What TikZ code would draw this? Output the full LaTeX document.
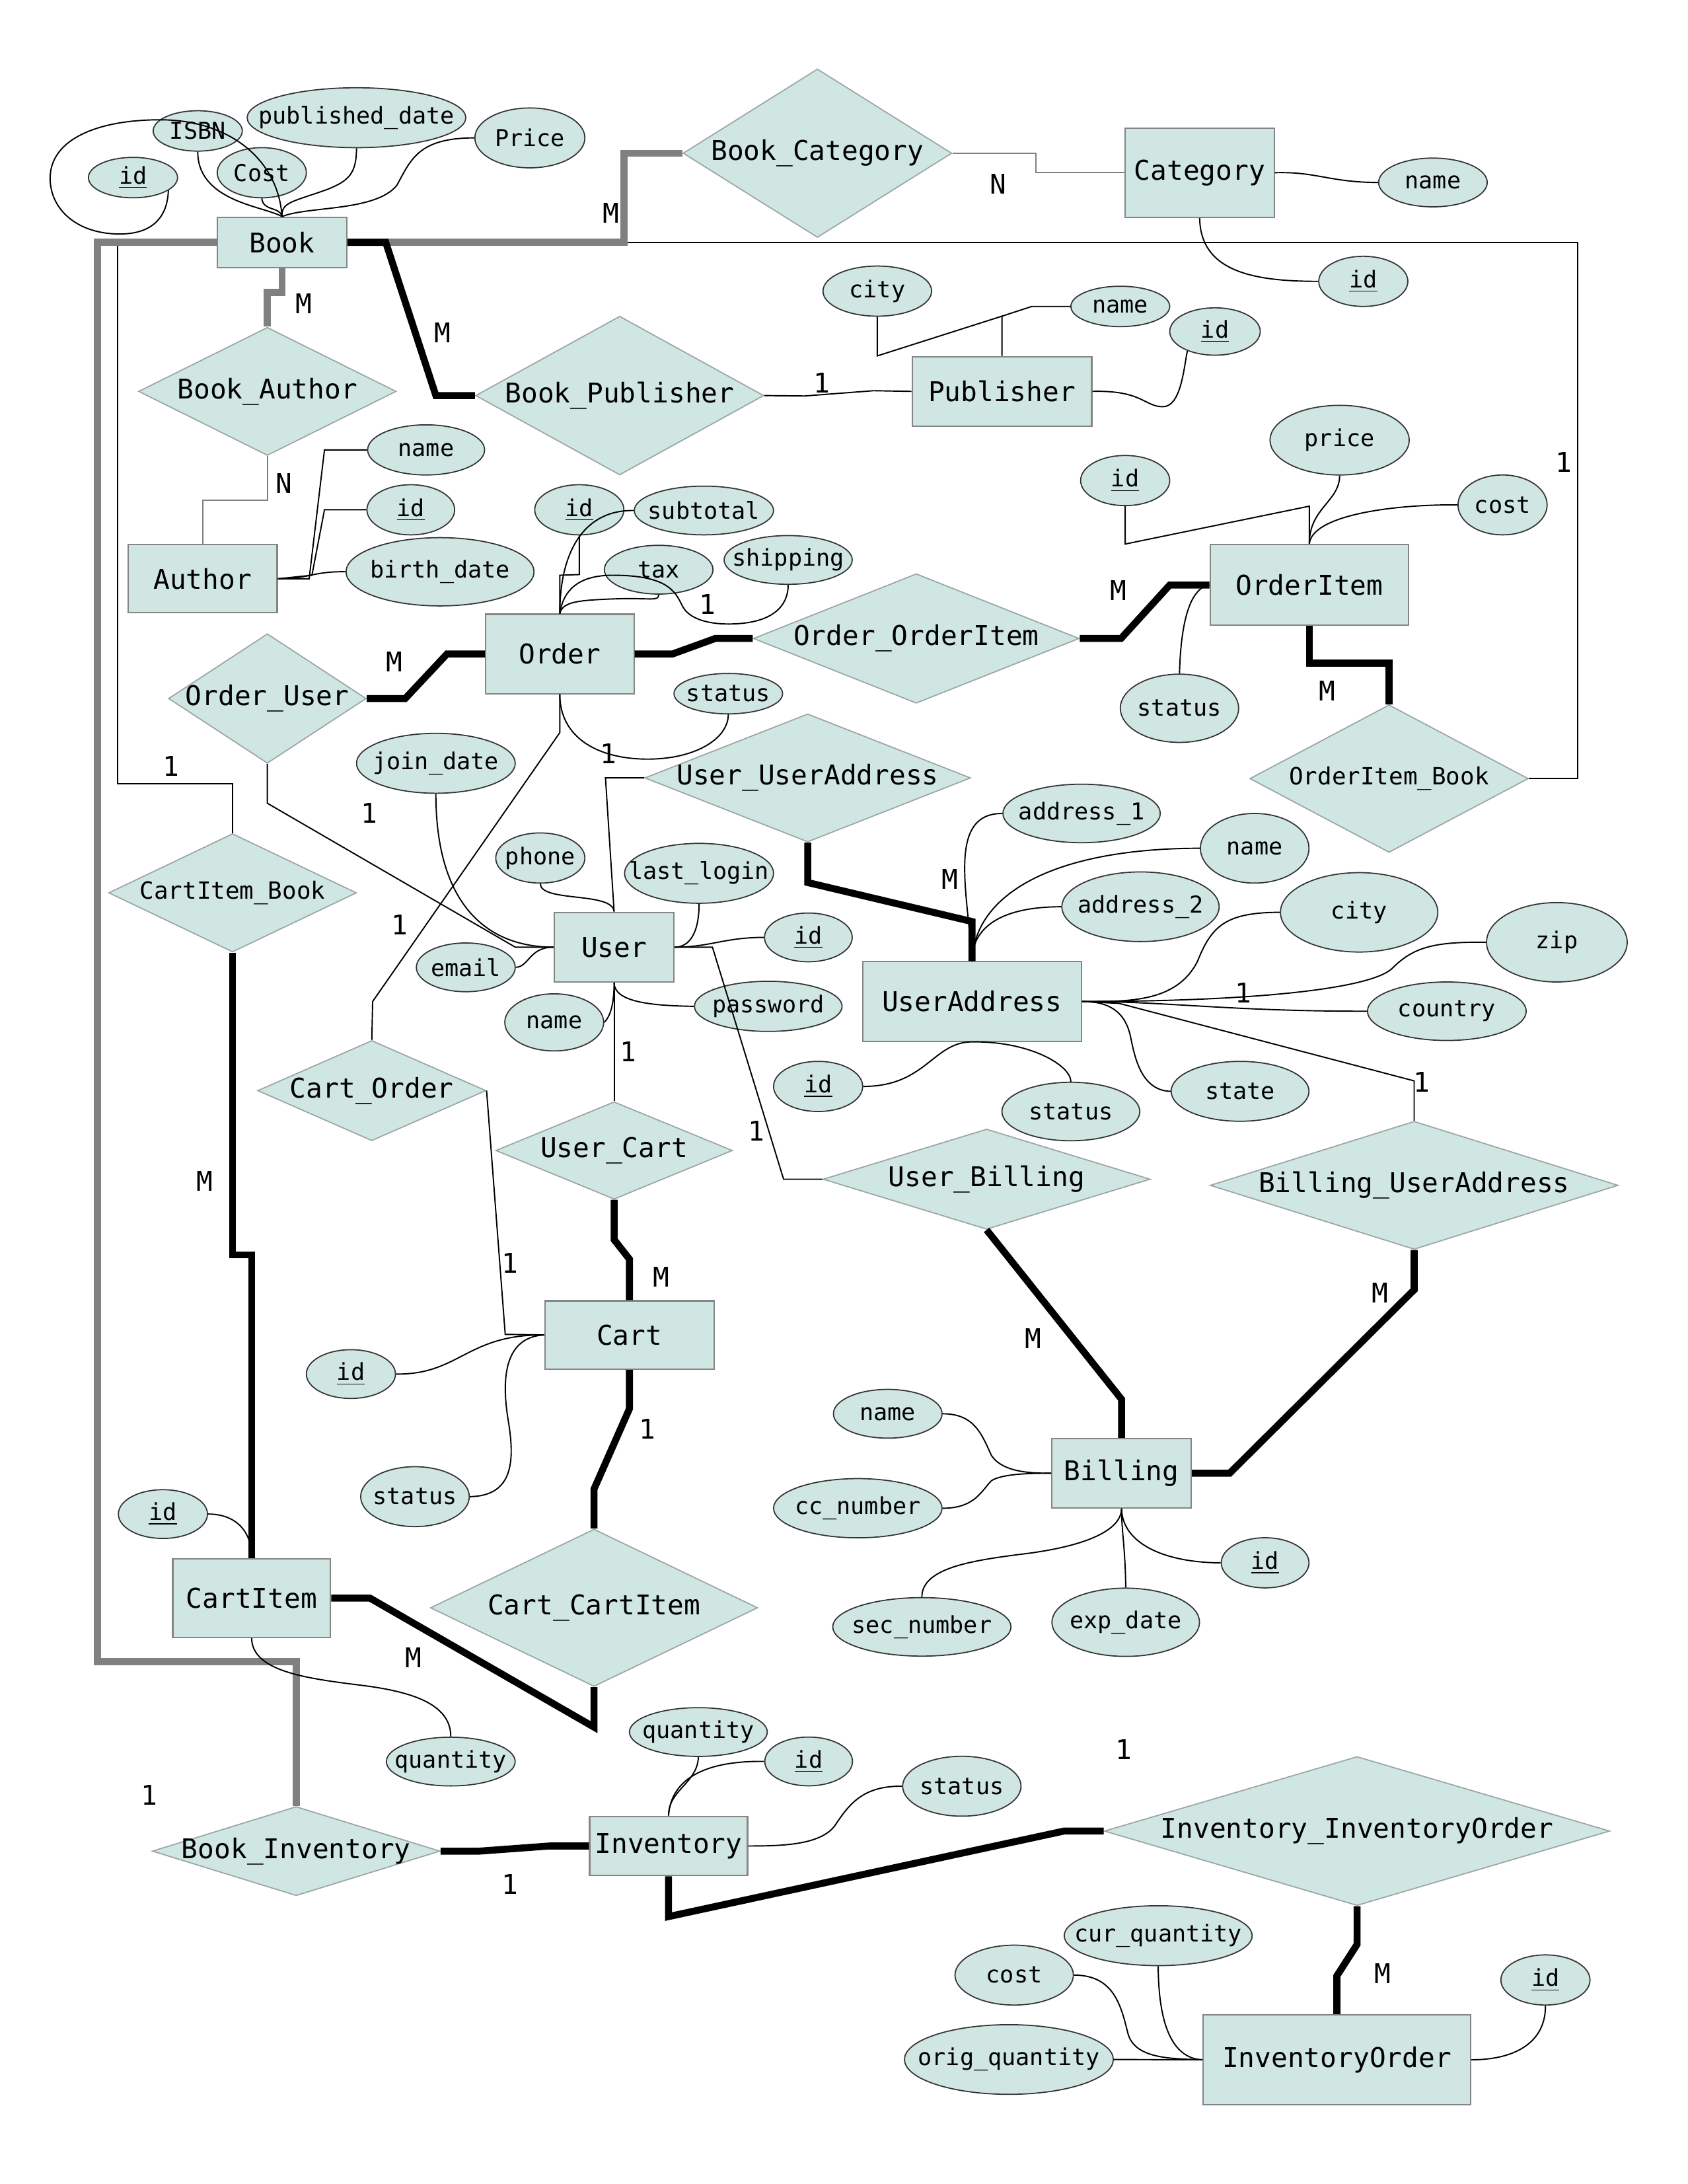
\documentclass[tikz,border=0pt]{standalone}
\usepackage{fontspec}
\setmainfont{DejaVu Sans Mono}
\usetikzlibrary{shapes.geometric}
\newcommand{\uu}{0.2107mm}
\newcommand{\entfont}{\fontsize{11.7}{14}\selectfont}
\newcommand{\attrfont}{\fontsize{10}{12}\selectfont}
\newcommand{\relsmall}{\fontsize{10.2}{12}\selectfont}
\definecolor{fillc}{HTML}{D0E6E3}
\definecolor{entb}{HTML}{858585}
\definecolor{relb}{HTML}{9AA6A4}
\definecolor{ellb}{HTML}{333333}
\definecolor{thkgrey}{HTML}{808080}
\begin{document}
\begin{tikzpicture}[x=\uu, y=-\uu,
  ent/.style 2 args={rectangle, draw=entb, fill=fillc, line width=0.6pt, inner sep=0pt,
     minimum width=#1*\uu, minimum height=#2*\uu, font=\entfont},
  rel/.style n args={3}{diamond, draw=relb, fill=fillc, line width=0.5pt, inner sep=0pt,
     minimum width=#1*\uu, minimum height=#2*\uu, label={[font=\entfont, inner sep=0pt]center:#3}},
  rels/.style n args={3}{diamond, draw=relb, fill=fillc, line width=0.5pt, inner sep=0pt,
     minimum width=#1*\uu, minimum height=#2*\uu, label={[font=\relsmall, inner sep=0pt]center:#3}},
  attr/.style n args={3}{ellipse, draw=ellb, fill=fillc, line width=0.5pt, inner sep=0pt,
     minimum width=#1*\uu, minimum height=#2*\uu, label={[font=\attrfont, inner sep=0pt]center:#3}},
  card/.style={font=\entfont, inner sep=0pt},
  thin/.style={line width=0.55pt, black},
  thing/.style={line width=0.55pt, thkgrey},
  thk/.style={line width=3pt, black},
  thkg/.style={line width=3pt, thkgrey}]

\fill[white] (0,0) rectangle (1212,1568);
\useasboundingbox (0,0) rectangle (1212,1568);

% ---------- entities ----------
\node[ent={93}{36}] (book) at (202.5,174) {Book};
\node[ent={107}{64}] (category) at (861.5,124) {Category};
\node[ent={129}{50}] (publisher) at (719.5,281) {Publisher};
\node[ent={107}{49}] (author) at (145.5,415.5) {Author};
\node[ent={106.5}{57}] (order) at (402,469.5) {Order};
\node[ent={142.5}{58}] (orderitem) at (940.25,420) {OrderItem};
\node[ent={86}{50}] (user) at (441,680) {User};
\node[ent={157}{57}] (useraddr) at (698,719) {UserAddress};
\node[ent={121.6}{49}] (cart) at (452,958.4) {Cart};
\node[ent={113.3}{56.5}] (cartitem) at (180.7,1147.3) {CartItem};
\node[ent={100}{49.7}] (billing) at (805.4,1057.7) {Billing};
\node[ent={113.4}{42.6}] (inventory) at (480.1,1325.3) {Inventory};
\node[ent={192}{64.4}] (invorder) at (960,1478.8) {InventoryOrder};

% ---------- relationships ----------
\node[rel={193}{121}{Book\_Category}] (bookcat) at (587,110) {};
\node[rel={185}{92}{Book\_Author}] (bookauth) at (192,281) {};
\node[rel={207}{114}{Book\_Publisher}] (bookpub) at (445,284) {};
\node[rel={142}{93}{Order\_User}] (orderuser) at (192,501.5) {};
\node[rel={234}{93}{Order\_OrderItem}] (orderoi) at (658,458.4) {};
\node[rels={200}{106}{OrderItem\_Book}] (oibook) at (997.5,559) {};
\node[rel={234}{92}{User\_UserAddress}] (useruaddr) at (580,558.5) {};
\node[rels={178}{85}{CartItem\_Book}] (cartitembook) at (167,641) {};
\node[rel={164}{72}{Cart\_Order}] (cartorder) at (267,783) {};
\node[rel={170}{70}{User\_Cart}] (usercart) at (441,826) {};
\node[rel={235}{72}{User\_Billing}] (userbill) at (708.5,846.6) {};
\node[rel={293}{92}{Billing\_UserAddress}] (billuaddr) at (1015.5,851) {};
\node[rel={235}{113}{Cart\_CartItem}] (cartci) at (426.6,1154.3) {};
\node[rel={206.6}{64}{Book\_Inventory}] (bookinv) at (212.7,1329) {};
\node[rel={363}{107}{Inventory\_InventoryOrder}] (invinvorder) at (974.5,1314.6) {};

% ---------- attributes ----------
\node[attr={64}{29}{\underline{id}}] (b_id) at (95.5,127.5) {};
\node[attr={64}{29}{ISBN}] (b_isbn) at (142,94) {};
\node[attr={64}{36}{Cost}] (b_cost) at (188,124) {};
\node[attr={157}{43}{published\_date}] (b_pub) at (256,84.5) {};
\node[attr={79}{43}{Price}] (b_price) at (380.5,99) {};
\node[attr={78}{35}{name}] (c_name) at (1029,131) {};
\node[attr={64}{36}{\underline{id}}] (c_id) at (979,202) {};
\node[attr={78}{36}{city}] (p_city) at (630,209) {};
\node[attr={71}{29}{name}] (p_name) at (804.5,220) {};
\node[attr={65}{34}{\underline{id}}] (p_id) at (872.5,238) {};
\node[attr={84}{36}{name}] (a_name) at (306,323) {};
\node[attr={63}{36}{\underline{id}}] (a_id) at (295,366) {};
\node[attr={135}{49}{birth\_date}] (a_birth) at (316,410.5) {};
\node[attr={64}{36}{\underline{id}}] (o_id) at (416,366) {};
\node[attr={100}{35}{subtotal}] (o_sub) at (505.5,366.5) {};
\node[attr={78}{35}{tax}] (o_tax) at (473,409) {};
\node[attr={92}{35}{shipping}] (o_ship) at (566,402) {};
\node[attr={78}{29}{status}] (o_status) at (523,498) {};
\node[attr={64}{36}{\underline{id}}] (oi_id) at (808,345) {};
\node[attr={100}{50}{price}] (oi_price) at (962,316) {};
\node[attr={64}{43}{cost}] (oi_cost) at (1079,362.5) {};
\node[attr={85}{49}{status}] (oi_status) at (847,508.5) {};
\node[attr={114}{43}{join\_date}] (u_join) at (313,548) {};
\node[attr={64}{36}{phone}] (u_phone) at (388,616) {};
\node[attr={107}{43}{last\_login}] (u_last) at (502,627) {};
\node[attr={63}{35}{\underline{id}}] (u_id) at (580.5,673) {};
\node[attr={71}{35}{email}] (u_email) at (334.5,694.5) {};
\node[attr={71}{41}{name}] (u_name) at (398,734) {};
\node[attr={106}{36}{password}] (u_pass) at (551.7,722.5) {};
\node[attr={113}{42}{address\_1}] (ua_a1) at (776.7,584) {};
\node[attr={78}{50}{name}] (ua_name) at (901,609) {};
\node[attr={113}{50}{address\_2}] (ua_a2) at (819,651) {};
\node[attr={113}{57}{city}] (ua_city) at (976,655) {};
\node[attr={101}{57}{zip}] (ua_zip) at (1118,676.5) {};
\node[attr={114}{42}{country}] (ua_country) at (1039,726) {};
\node[attr={99}{43}{state}] (ua_state) at (890.5,783.5) {};
\node[attr={99}{42}{status}] (ua_status) at (769,798) {};
\node[attr={64}{36}{\underline{id}}] (ua_id) at (587.5,780) {};
\node[attr={64}{35}{\underline{id}}] (ca_id) at (252,986.5) {};
\node[attr={78}{43}{status}] (ca_status) at (298,1074.5) {};
\node[attr={64}{35}{\underline{id}}] (ci_id) at (117,1087) {};
\node[attr={92.5}{35}{quantity}] (ci_qty) at (323.7,1264.7) {};
\node[attr={78}{35}{name}] (bi_name) at (637.5,1015) {};
\node[attr={121}{42.5}{cc\_number}] (bi_cc) at (616,1082.8) {};
\node[attr={128}{42}{sec\_number}] (bi_sec) at (662,1168) {};
\node[attr={106}{49}{exp\_date}] (bi_exp) at (808.4,1164.7) {};
\node[attr={63}{36}{\underline{id}}] (bi_id) at (908.5,1122) {};
\node[attr={99}{35}{quantity}] (in_qty) at (501.5,1243.5) {};
\node[attr={63}{35}{\underline{id}}] (in_id) at (580.7,1264.6) {};
\node[attr={85}{43}{status}] (in_status) at (690.7,1282.4) {};
\node[attr={135}{43}{cur\_quantity}] (io_cur) at (831.7,1389.7) {};
\node[attr={85}{43}{cost}] (io_cost) at (728.3,1418) {};
\node[attr={150}{50}{orig\_quantity}] (io_orig) at (724.5,1478.6) {};
\node[attr={64}{36}{\underline{id}}] (io_id) at (1109.8,1421.5) {};

% ---------- thin relationship connectors ----------
\draw[thin] (oibook.east) -- (1133,559) -- (1133,174) -- (book.east);
\draw[thin] (cartitembook.north) -- (167,562.5) -- (84.6,562.5) -- (84.6,174) -- (book.west);
\draw[thin] (bookpub.east) -- (577.6,284.3) -- (627.4,280.5) -- (publisher.west);
\draw[thin] (orderuser.south) -- (192,576.7) -- (370,680) -- (user.west);
\draw[thin] (order.south) -- (402,526) -- (267.6,719) -- (cartorder.north);
\draw[thin] (cartorder.east) -- (362.8,958) -- (cart.west);
\draw[thin] (user.north) -- (434.8,558.5) -- (useruaddr.west);
\draw[thin] (user.south) -- (usercart.north);
\draw[thin] (user.east) -- (511.6,680) -- (562.7,846.6) -- (userbill.west);
\draw[thin] (useraddr.east) -- (803.8,720.4) -- (1015.5,776) -- (billuaddr.north);
\draw[thing] (bookcat.east) -- (744,110) -- (744,124) -- (category.west);
\draw[thing] (bookauth.south) -- (192,359) -- (145.5,359) -- (author.north);

% ---------- thick connectors ----------
\draw[thkg] (book.east) -- (448,174) -- (448,110) -- (bookcat.west);
\draw[thkg] (book.south) -- (202.5,210) -- (192,210) -- (bookauth.north);
\draw[thkg] (book.west) -- (70,174) -- (70,1193) -- (212.7,1193) -- (bookinv.north);
\draw[thk] (book.east) -- (277,174) -- (313,284) -- (bookpub.west);
\draw[thk] (orderuser.east) -- (291,501.5) -- (321,469.5) -- (order.west);
\draw[thk] (order.east) -- (483,469.5) -- (513.6,458.4) -- (orderoi.west);
\draw[thk] (orderoi.east) -- (805,458.4) -- (840,420) -- (orderitem.west);
\draw[thk] (orderitem.south) -- (940.25,476) -- (997.5,476) -- (oibook.north);
\draw[thk] (useruaddr.south) -- (580,633.6) -- (698,661.6) -- (useraddr.north);
\draw[thk] (usercart.south) -- (441,890) -- (452,904) -- (cart.north);
\draw[thk] (cart.south) -- (452,1011.4) -- (426.6,1069) -- (cartci.north);
\draw[thk] (cartci.south) -- (426.6,1240) -- (265.6,1147.3) -- (cartitem.east);
\draw[thk] (cartitembook.south) -- (167,901) -- (180.7,901) -- (cartitem.north);
\draw[thk] (userbill.south) -- (805.4,1004.6) -- (billing.north);
\draw[thk] (billuaddr.south) -- (1015.5,926) -- (883,1057.7) -- (billing.east);
\draw[thk] (bookinv.east) -- (344.3,1329) -- (394.7,1325.3) -- (inventory.west);
\draw[thk] (inventory.south) -- (480.1,1376) -- (764,1314.6) -- (invinvorder.west);
\draw[thk] (invinvorder.south) -- (974.5,1396) -- (960,1418.6) -- (invorder.north);

% ---------- attribute connectors ----------
% Book
\draw[thin] (b_id.-20) .. controls (120,160) and (105,168) .. (86,168)
   .. controls (55,168) and (36,150) .. (36,128)
   .. controls (36,100) and (70,86) .. (115,86)
   .. controls (165,86) and (200,115) .. (book.north);
\draw[thin] (b_isbn.south) .. controls (142,145) and (190,148) .. (book.north);
\draw[thin] (b_cost.south) .. controls (189,152) and (201,148) .. (book.north);
\draw[thin] (b_pub.south) .. controls (256,125) and (250,130) .. (235,136)
   .. controls (210,145) and (202,145) .. (book.north);
\draw[thin] (b_price.west) .. controls (300,99) and (295,115) .. (285,133)
   .. controls (270,152) and (220,148) .. (book.north);
% Category
\draw[thin] (category.east) .. controls (945,123) and (955,131) .. (c_name.west);
\draw[thin] (category.south) .. controls (862,195) and (900,202) .. (c_id.west);
% Publisher
\draw[thin] (p_city.south) -- (630,255.5) -- (719.5,227) -- (publisher.north);
\draw[thin] (p_name.west) -- (741,220) -- (719.5,227);
\draw[thin] (publisher.east) .. controls (820,280) and (822,292) .. (835,292)
   .. controls (848,292) and (850,265) .. (p_id.-145);
% Author
\draw[thin] (author.east) -- (222,415.5) -- (233,323) -- (a_name.west);
\draw[thin] (author.east) -- (224,413) -- (233,366) -- (a_id.west);
\draw[thin] (author.east) .. controls (220,416) and (225,410) .. (a_birth.west);
% Order
\draw[thin] (order.north) -- (402,413) -- (416,412.5) -- (o_id.south);
\draw[thin] (order.north) .. controls (402,395) and (420,366) .. (o_sub.west);
\draw[thin] (order.north) .. controls (404,432) and (415,431) .. (440,430)
   .. controls (468,429) and (473,432) .. (o_tax.south);
\draw[thin] (order.north) .. controls (405,420) and (420,413) .. (440,413)
   .. controls (480,413) and (485,425) .. (490,435)
   .. controls (495,445) and (510,448) .. (523,448)
   .. controls (555,448) and (566,435) .. (o_ship.south);
\draw[thin] (order.south) .. controls (402,530) and (430,545) .. (465,545)
   .. controls (500,545) and (523,530) .. (o_status.south);
% OrderItem
\draw[thin] (oi_id.south) -- (808,390.6) -- (940.25,363.4) -- (orderitem.north);
\draw[thin] (oi_price.south) .. controls (962,360) and (940,365) .. (orderitem.north);
\draw[thin] (oi_cost.west) .. controls (1000,362) and (942,370) .. (orderitem.north);
\draw[thin] (oi_status.north) .. controls (848,445) and (855,422) .. (orderitem.west);
% User
\draw[thin] (u_join.south) .. controls (313,650) and (350,680) .. (user.west);
\draw[thin] (u_phone.south) .. controls (388,648) and (440,640) .. (user.north);
\draw[thin] (u_last.south) .. controls (502,670) and (495,680) .. (user.east);
\draw[thin] (user.east) .. controls (510,680) and (520,673) .. (u_id.west);
\draw[thin] (u_email.east) .. controls (380,694) and (380,680) .. (user.west);
\draw[thin] (user.south) .. controls (441,720) and (470,722) .. (u_pass.west);
\draw[thin] (u_name.east) .. controls (440,728) and (441,715) .. (user.south);
% UserAddress
\draw[thin] (ua_a1.west) .. controls (680,584) and (695,640) .. (useraddr.north);
\draw[thin] (ua_name.west) .. controls (760,609) and (700,640) .. (useraddr.north);
\draw[thin] (ua_a2.west) .. controls (720,651) and (698,665) .. (useraddr.north);
\draw[thin] (ua_city.west) .. controls (880,655) and (870,665) .. (860,690)
   .. controls (845,720) and (810,719) .. (useraddr.east);
\draw[thin] (ua_zip.west) .. controls (1030,676) and (1015,680) .. (1000,695)
   .. controls (985,710) and (900,719) .. (useraddr.east);
\draw[thin] (ua_country.west) .. controls (880,726) and (840,719) .. (useraddr.east);
\draw[thin] (ua_state.west) .. controls (820,783) and (815,760) .. (812,745)
   .. controls (808,725) and (795,719) .. (useraddr.east);
\draw[thin] (ua_id.east) .. controls (665,780) and (670,748) .. (useraddr.south);
\draw[thin] (ua_status.north) .. controls (769,765) and (740,747.5) .. (useraddr.south);
% Cart
\draw[thin] (ca_id.east) .. controls (330,987) and (335,958) .. (cart.west);
\draw[thin] (ca_status.east) .. controls (368,1074) and (370,1050) .. (365,1020)
   .. controls (360,990) and (362,960) .. (cart.west);
% CartItem
\draw[thin] (ci_id.east) .. controls (170,1087) and (181,1100) .. (cartitem.north);
\draw[thin] (cartitem.south) .. controls (181,1200) and (220,1205) .. (260,1210)
   .. controls (300,1215) and (323.7,1225) .. (ci_qty.north);
% Billing
\draw[thin] (bi_name.east) .. controls (700,1015) and (705,1030) .. (712,1045)
   .. controls (720,1057) and (740,1057.7) .. (billing.west);
\draw[thin] (bi_cc.east) .. controls (700,1083) and (705,1070) .. (712,1063)
   .. controls (720,1058) and (740,1057.7) .. (billing.west);
\draw[thin] (bi_sec.north) .. controls (662,1125) and (700,1120) .. (740,1115)
   .. controls (790,1108) and (805.4,1095) .. (billing.south);
\draw[thin] (bi_exp.north) .. controls (808,1110) and (805.4,1100) .. (billing.south);
\draw[thin] (bi_id.west) .. controls (840,1122) and (806,1110) .. (billing.south);
% Inventory
\draw[thin] (in_qty.south) .. controls (501,1280) and (480,1285) .. (inventory.north);
\draw[thin] (in_id.west) .. controls (510,1264) and (482,1275) .. (inventory.north);
\draw[thin] (in_status.west) .. controls (620,1282) and (610,1295) .. (600,1310)
   .. controls (590,1325) and (560,1325.3) .. (inventory.east);
% InventoryOrder
\draw[thin] (io_cur.south) .. controls (832,1460) and (845,1478) .. (invorder.west);
\draw[thin] (io_cost.east) .. controls (800,1418) and (805,1440) .. (810,1460)
   .. controls (815,1478) and (840,1478) .. (invorder.west);
\draw[thin] (io_orig.east) -- (invorder.west);
\draw[thin] (io_id.south) .. controls (1110,1465) and (1090,1478.8) .. (invorder.east);

% ---------- cardinalities ----------
\node[card] (k1) at (439,153) {M};
\node[card] (k2) at (717,132) {N};
\node[card] (k3) at (218,218) {M};
\node[card] (k4) at (318,239) {M};
\node[card] (k5) at (590,275) {1};
\node[card] (k6) at (204,347) {N};
\node[card] (k7) at (1123,332) {1};
\node[card] (k8) at (803,424) {M};
\node[card] (k9) at (508,434) {1};
\node[card] (k10) at (283,475) {M};
\node[card] (k11) at (953,496) {M};
\node[card] (k12) at (437,541) {1};
\node[card] (k13) at (123,550) {1};
\node[card] (k14) at (265,584) {1};
\node[card] (k15) at (682,631) {M};
\node[card] (k16) at (287,664) {1};
\node[card] (k17) at (893,713) {1};
\node[card] (k18) at (451,755) {1};
\node[card] (k19) at (1021,777) {1};
\node[card] (k20) at (543,812) {1};
\node[card] (k21) at (147,848) {M};
\node[card] (k22) at (366,907) {1};
\node[card] (k23) at (475,917) {M};
\node[card] (k24) at (991,928) {M};
\node[card] (k25) at (742,961) {M};
\node[card] (k26) at (465,1026) {1};
\node[card] (k27) at (297,1190) {M};
\node[card] (k28) at (807,1256) {1};
\node[card] (k29) at (107,1289) {1};
\node[card] (k30) at (366,1353) {1};
\node[card] (k31) at (993,1417) {M};
\end{tikzpicture}
\end{document}
